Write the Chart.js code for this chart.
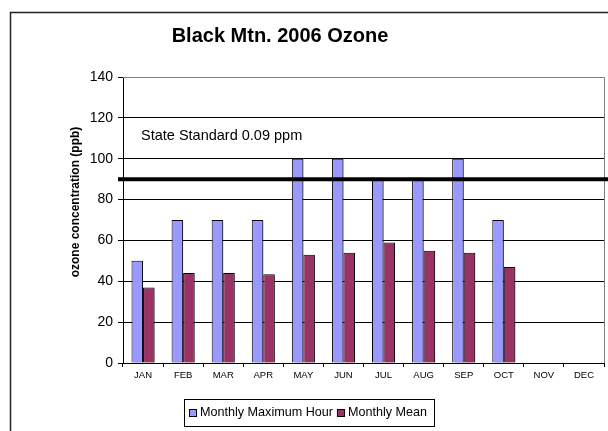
<!DOCTYPE html>
<html>
<head>
<meta charset="utf-8">
<script src="https://cdn.jsdelivr.net/npm/chart.js@4"></script>
<style>
  html, body { margin: 0; padding: 0; background: #fff; }
  #wrap { width: 608px; height: 431px; position: relative; }
</style>
</head>
<body>
<div id="wrap"><canvas id="ozoneChart" width="608" height="431"></canvas></div>
<script>
const months = ['JAN', 'FEB', 'MAR', 'APR', 'MAY', 'JUN', 'JUL', 'AUG', 'SEP', 'OCT', 'NOV', 'DEC'];
const maxHour = [50, 70, 70, 70, 100, 100, 90, 90, 100, 70, null, null];
const monthlyMean = [37, 44, 44, 43.5, 53, 54, 59, 55, 54, 47, null, null];
const seriesNames = ['Monthly Maximum Hour', 'Monthly Mean'];
const seriesColors = ['#9999FF', '#993366'];
const yTicks = [0, 20, 40, 60, 80, 100, 120, 140];
const standardValue = 90;
const standardLabel = 'State Standard 0.09 ppm';
const chartTitle = 'Black Mtn. 2006 Ozone';
const yTitle = 'ozone concentration (ppb)';

const FONT = 'Arial, "Liberation Sans", sans-serif';

// frame, title, axis title, standard line, plot border and boxed legend
const decorations = {
    id: 'decorations',
    beforeDraw(chart) {
        const ctx = chart.ctx;
        ctx.save();
        ctx.strokeStyle = '#222';
        ctx.lineWidth = 1.5;
        ctx.strokeRect(10.5, 12.5, 620, 440);
        ctx.fillStyle = '#000';
        ctx.font = 'bold 20px ' + FONT;
        ctx.textAlign = 'center';
        ctx.textBaseline = 'middle';
        ctx.fillText(chartTitle, 280, 36);
        ctx.translate(76, 202);
        ctx.rotate(-Math.PI / 2);
        ctx.font = 'bold 12px ' + FONT;
        ctx.fillText(yTitle, 0, 0);
        ctx.restore();
    },
    beforeDatasetsDraw(chart) {
        const ctx = chart.ctx;
        ctx.save();
        ctx.shadowColor = 'rgba(0,0,0,0.35)';
        ctx.shadowOffsetX = 2;
        ctx.shadowOffsetY = 1;
        ctx.shadowBlur = 0;
    },
    afterDatasetsDraw(chart) {
        const ctx = chart.ctx;
        ctx.restore();
        const a = chart.chartArea;
        const y = chart.scales.y;
        ctx.save();
        // plot border (top and right)
        ctx.strokeStyle = '#808080';
        ctx.lineWidth = 1;
        ctx.beginPath();
        ctx.moveTo(a.left, a.top + 0.5);
        ctx.lineTo(a.right + 0.5, a.top + 0.5);
        ctx.lineTo(a.right + 0.5, a.bottom);
        ctx.stroke();
        // standard line
        const ys = y.getPixelForValue(standardValue);
        ctx.strokeStyle = '#000';
        ctx.lineWidth = 4;
        ctx.beginPath();
        ctx.moveTo(a.left - 5, ys);
        ctx.lineTo(608, ys);
        ctx.stroke();
        ctx.fillStyle = '#000';
        ctx.font = '14.5px ' + FONT;
        ctx.textAlign = 'left';
        ctx.textBaseline = 'middle';
        ctx.fillText(standardLabel, 141, 136);
        // legend
        ctx.font = '12.6px ' + FONT;
        const boxX = 184, boxY = 399, boxW = 250, boxH = 27;
        ctx.fillStyle = '#fff';
        ctx.fillRect(boxX, boxY, boxW, boxH);
        ctx.strokeStyle = '#000';
        ctx.lineWidth = 1;
        ctx.strokeRect(boxX + 0.5, boxY + 0.5, boxW, boxH);
        let x = boxX + 5;
        const cy = boxY + boxH / 2 + 0.5;
        seriesNames.forEach((name, i) => {
            ctx.fillStyle = seriesColors[i];
            ctx.fillRect(x, cy - 4, 8, 8);
            ctx.strokeStyle = '#000';
            ctx.strokeRect(x + 0.5, cy - 3.5, 7, 7);
            ctx.fillStyle = '#000';
            ctx.fillText(name, x + 11, cy);
            x += 11 + ctx.measureText(name).width + 4;
        });
        ctx.restore();
    }
};

new Chart(document.getElementById('ozoneChart'), {
    type: 'bar',
    data: {
        labels: months,
        datasets: [
            {
                label: seriesNames[0],
                data: maxHour,
                backgroundColor: seriesColors[0],
                borderColor: '#000',
                borderWidth: 1,
                barPercentage: 1,
                categoryPercentage: 0.575
            },
            {
                label: seriesNames[1],
                data: monthlyMean,
                backgroundColor: seriesColors[1],
                borderColor: '#000',
                borderWidth: 1,
                barPercentage: 1,
                categoryPercentage: 0.575
            }
        ]
    },
    options: {
        responsive: false,
        animation: false,
        layout: { padding: { top: 77, right: 4, bottom: 0, left: 0 } },
        plugins: {
            legend: { display: false },
            title: { display: false },
            tooltip: { enabled: false }
        },
        scales: {
            x: {
                grid: {
                    offset: true,
                    drawOnChartArea: false,
                    drawTicks: true,
                    tickLength: 4,
                    color: '#000'
                },
                border: { color: '#000', width: 1 },
                ticks: { color: '#000', font: { family: FONT, size: 9.5 }, padding: 3, maxRotation: 0, autoSkip: false },
                afterFit(scale) { scale.height = 68; }
            },
            y: {
                min: 0,
                max: 140,
                afterBuildTicks(scale) { scale.ticks = yTicks.map(v => ({ value: v })); },
                grid: { color: '#000', lineWidth: 1, tickLength: 5 },
                border: { color: '#000', width: 1 },
                ticks: { color: '#000', font: { family: FONT, size: 14 }, padding: 5 },
                afterFit(scale) { scale.width = 123; }
            }
        }
    },
    plugins: [decorations]
});
</script>
</body>
</html>
